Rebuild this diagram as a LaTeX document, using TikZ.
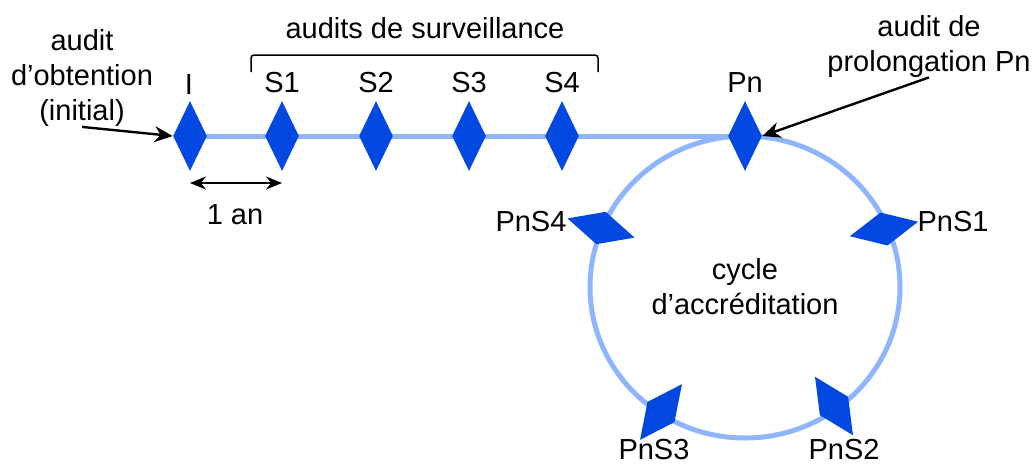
\documentclass[tikz,border=0pt]{standalone}
\usepackage{fontspec}
\setmainfont{Liberation Sans}
\usetikzlibrary{arrows.meta,shapes.geometric,backgrounds}
\definecolor{auditblue}{RGB}{0,72,224}
\definecolor{tracklight}{RGB}{143,181,255}

\begin{document}
\begin{tikzpicture}[x=0.5pt, y=-0.5pt, >=Stealth, font=\fontsize{14.5}{17.5}\selectfont,
  audit/.style={diamond, fill=auditblue, inner sep=0pt, minimum width=17pt, minimum height=35pt},
  track/.style={tracklight, line width=2.5pt},
  lab/.style={align=center, inner sep=0pt},
  pointer/.style={->, black, line width=1.2pt, >={Stealth[length=9pt, width=8pt]}},
  span/.style={<->, black, line width=1.2pt, >={Stealth[length=8pt, width=6.5pt]}}]

\useasboundingbox (0,0) rectangle (1035,467);

% Audits along the time line
\node[audit] (I) at (190,136) {};
\node[lab] (labI) at (189,85) {I};
\foreach \n/\x in {S1/282, S2/376, S3/469, S4/562} {
  \node[audit] (\n) at (\x,136) {};
  \node[lab] (lab\n) at (\x,83) {\n};
}
\node[audit] (Pn) at (745,136) {};
\node[lab] (labPn) at (745,83) {Pn};

% Audits on the accreditation cycle
\coordinate (cyc) at (745,287);
\foreach \n/\x/\y/\r/\lx/\ly in {PnS1/884/229/-78/953/222, PnS2/834/406/33/844/450,
                                 PnS3/661/412/-37/654/450, PnS4/601/228/74/531/222} {
  \node[audit, rotate=\r] (\n) at (\x,\y) {};
  \node[lab] (lab\n) at (\lx,\ly) {\n};
}
\node[lab] (cycle) at (cyc) {cycle\\d’accréditation};

% Time line and cycle behind the diamonds
\begin{scope}[on background layer]
  \draw[track] (I.center) -- (Pn.center);
  \draw[track] (cyc) ellipse [x radius=155, y radius=151];
\end{scope}

% Surveillance bracket
\draw[black, line width=0.75pt, rounded corners=1.5pt] (251,72) -- (251,55) -- (598,55) -- (598,72);
\node[lab] (surv) at (425,28) {audits de surveillance};

% Initial audit
\node[lab] (init) at (82,78) {audit\\d’obtention\\(initial)};
\draw[pointer] (init.south) -- (I.west);

% Prolongation audit
\node[lab] (prol) at (929,46) {audit de\\prolongation Pn};
\draw[pointer] (prol.south) -- (Pn.east);

% One year
\draw[span] ([yshift=-23.5pt]I.center) -- ([yshift=-23.5pt]S1.center);
\node[lab] (year) at (235,215) {1 an};

\end{tikzpicture}
\end{document}
